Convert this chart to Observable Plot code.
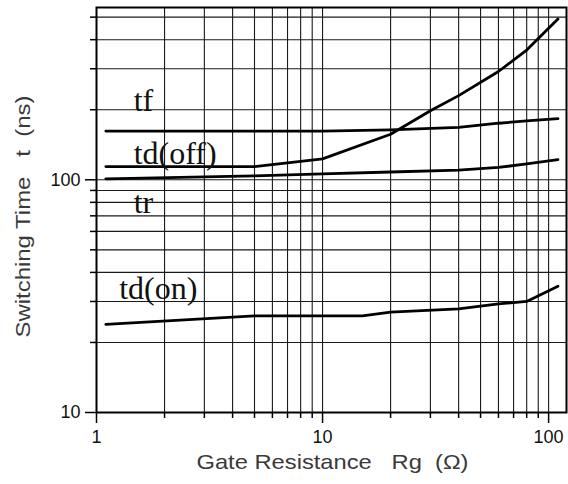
<!DOCTYPE html>
<html>
<head>
<meta charset="utf-8">
<script src="https://cdn.jsdelivr.net/npm/d3@7"></script>
<script src="https://cdn.jsdelivr.net/npm/@observablehq/plot@0.6"></script>
<style>
  html, body { margin: 0; padding: 0; background: #fff; }
  #chart svg text { white-space: pre; }
</style>
</head>
<body>
<div id="chart"></div>
<script>
// Tick / grid values
const xMinorTicks = [2, 3, 4, 5, 6, 7, 8, 9, 20, 30, 40, 50, 60, 70, 80, 90];
const xMajorTicks = [1, 10, 100];
const yMinorTicks = [20, 30, 40, 50, 60, 70, 80, 90, 200, 300, 400, 500];
const yMajorTicks = [10, 100];

// Series (Rg in ohm, time in ns)
const tfRg = [1.1, 10, 20, 40, 60, 80, 110];
const tfTime = [162, 162, 164, 168, 175, 179, 183];

const tdOffRg = [1.1, 5, 10, 20, 30, 40, 60, 80, 110];
const tdOffTime = [114, 114, 123, 157, 198, 230, 292, 361, 491];

const trRg = [1.1, 5, 10, 20, 40, 60, 80, 110];
const trTime = [101, 104, 106, 108, 110, 113, 117, 122];

const tdOnRg = [1.1, 5, 15, 20, 40, 60, 80, 110];
const tdOnTime = [23.9, 26, 26, 27, 27.9, 29.3, 30, 34.9];

// Curve labels (anchored in data units)
const labelText = ["tf", "td(off)", "tr", "td(on)"];
const labelRg = [1.46, 1.46, 1.46, 1.26];
const labelTime = [197, 117, 72, 30.6];

const xTitle = "Gate Resistance   Rg  (\u03A9)";
const yTitle = "Switching Time   t  (ns)";

const seriesList = [
  ["tf", tfRg, tfTime],
  ["td(off)", tdOffRg, tdOffTime],
  ["tr", trRg, trTime],
  ["td(on)", tdOnRg, tdOnTime]
];
const rows = [];
for (const [name, xs, ys] of seriesList) {
  xs.forEach((x, i) => rows.push({series: name, rg: x, t: ys[i]}));
}
const labels = labelText.map((s, i) => ({text: s, rg: labelRg[i], t: labelTime[i]}));

const chart = Plot.plot({
  width: 568,
  height: 484,
  marginLeft: 96,
  marginRight: 2,
  marginTop: 7,
  marginBottom: 72,
  x: {type: "log", domain: [1, 120], label: null},
  y: {type: "log", domain: [10, 550], label: null},
  style: {fontFamily: "'Liberation Sans', Arial, sans-serif", fontSize: "18px", color: "#000", background: "#fff"},
  marks: [
    Plot.ruleX(xMinorTicks.concat([10, 100]), {stroke: "#1a1a1a", strokeWidth: 1.1}),
    Plot.ruleY(yMinorTicks.concat([100]), {stroke: "#1a1a1a", strokeWidth: 1.1}),
    Plot.axisX(xMinorTicks, {tickSize: 6, tickFormat: () => "", strokeWidth: 1.5, label: null}),
    Plot.axisX(xMajorTicks, {tickSize: 11, tickPadding: 7, tickFormat: d => String(d), strokeWidth: 1.5, label: null, fill: "#111"}),
    Plot.axisY(yMinorTicks, {tickSize: 6, tickFormat: () => "", strokeWidth: 1.5, label: null}),
    Plot.axisY(yMajorTicks, {tickSize: 11, tickPadding: 5, tickFormat: d => String(d), strokeWidth: 1.5, label: null, fill: "#111"}),
    Plot.line(rows, {x: "rg", y: "t", z: "series", stroke: "#000", strokeWidth: 2.8}),
    Plot.text(labels, {
      x: "rg", y: "t", text: "text", textAnchor: "start", lineAnchor: "bottom",
      fontFamily: "'Liberation Serif', 'Times New Roman', serif", fontSize: 32, fill: "#111"
    }),
    Plot.frame({stroke: "#000", strokeWidth: 2}),
    Plot.text([xTitle], {text: d => d, frameAnchor: "bottom", textAnchor: "start", dx: -135, dy: 50, lineAnchor: "middle", fontSize: 21, fill: "#3a3a3a"}),
    Plot.text([yTitle], {text: d => d, frameAnchor: "left", textAnchor: "start", dx: -73, dy: 127.5, rotate: -90, lineAnchor: "middle", fontSize: 21, fill: "#3a3a3a"})
  ]
});

document.getElementById("chart").appendChild(chart);

// stretch axis titles to the reference's measured widths
chart.querySelectorAll("text").forEach(t => {
  if (t.textContent === xTitle) { t.setAttribute("textLength", 272); t.setAttribute("lengthAdjust", "spacingAndGlyphs"); }
  if (t.textContent === yTitle) { t.setAttribute("textLength", 242); t.setAttribute("lengthAdjust", "spacingAndGlyphs"); }
});
</script>
</body>
</html>
